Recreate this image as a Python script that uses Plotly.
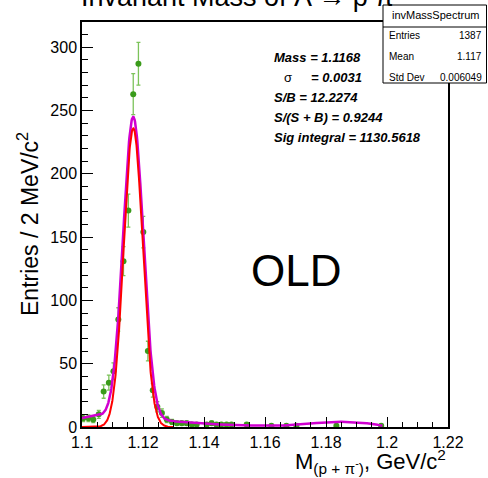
import numpy as np
import plotly.graph_objects as go

# ---------------- data ----------------
mass = [1.1004, 1.1021, 1.1037, 1.1055, 1.1071, 1.1088, 1.1103, 1.1119, 1.1136, 1.1152,
        1.1168, 1.1185, 1.1201, 1.1216, 1.1232, 1.1247, 1.1262, 1.1278, 1.1295, 1.1311,
        1.1327, 1.1343, 1.1360, 1.1376, 1.1409, 1.1425, 1.1441, 1.1457, 1.1474, 1.1490,
        1.1540, 1.1621, 1.1670, 1.1703, 1.1834, 1.1981]
counts = [7, 7, 6, 10, 28, 35, 44, 85, 131, 171,
          263, 287, 154, 60, 29, 16, 11, 6, 4, 3,
          3, 3, 2, 2, 2, 3, 2, 2, 2, 2,
          2, 1, 1, 1, 1, 1]

fit_mass = 1.1168
fit_sigma = 0.0031
sig_amp = 236
tot_amp = 238
tot_sigma = 0.0033
# background part of the magenta (total) fit curve
bg_x = [1.100, 1.104, 1.108, 1.112, 1.1168, 1.121, 1.1256, 1.1278, 1.130, 1.1354, 1.140,
        1.150, 1.160, 1.165, 1.170, 1.175, 1.180, 1.185, 1.190, 1.195, 1.1985]
bg_y = [7, 9, 8, 8, 7, 6, 5, 4.8, 4.5, 3.4, 2.4,
        1.6, 1.0, 1.0, 1.8, 2.8, 3.7, 4.1, 3.8, 2.6, 1.0]

x_ticks = [1.1, 1.12, 1.14, 1.16, 1.18, 1.2, 1.22]
x_tick_text = ["1.1", "1.12", "1.14", "1.16", "1.18", "1.2", "1.22"]
y_ticks = [0, 50, 100, 150, 200, 250, 300]

stats_title = "invMassSpectrum"
stats_rows = [("Entries", "1387"), ("Mean", "1.117"), ("Std Dev", "0.006049")]
fit_lines = ["Mass = 1.1168", "S/B = 12.2274", "S/(S + B) = 0.9244", "Sig integral = 1130.5618"]
sigma_line = "= 0.0031"

# ---------------- figure ----------------
FONT = "Liberation Sans, Arial, Helvetica, sans-serif"
L, T, W, H = 82, 22, 366, 405  # plot area in page pixels
FIG_W, FIG_H = 488, 478


def px(xp):
    return (xp - L) / W


def py(yp):
    return (T + H - yp) / H


errs = np.sqrt(np.array(counts, dtype=float))

fig = go.Figure()
fig.add_trace(go.Scatter(
    x=mass, y=counts, mode="markers",
    marker=dict(color="#3a9b1a", size=6),
    error_y=dict(type="data", array=errs, color="#7cc35a", thickness=1.3, width=2),
    showlegend=False, hoverinfo="skip"))

xs_tot = np.linspace(1.1, 1.1985, 800)
tot = tot_amp * np.exp(-0.5 * ((xs_tot - fit_mass) / tot_sigma) ** 2) + np.interp(xs_tot, bg_x, bg_y)
fig.add_trace(go.Scatter(x=xs_tot, y=tot, mode="lines",
                         line=dict(color="#d000d0", width=2.5),
                         showlegend=False, hoverinfo="skip"))

xs_sig = np.linspace(1.1, 1.13, 500)
sig = sig_amp * np.exp(-0.5 * ((xs_sig - fit_mass) / fit_sigma) ** 2)
fig.add_trace(go.Scatter(x=xs_sig, y=sig, mode="lines",
                         line=dict(color="#ff0000", width=2),
                         showlegend=False, hoverinfo="skip"))

axis_common = dict(showgrid=False, zeroline=False, showline=True, linecolor="black",
                   linewidth=1.5, mirror=True, ticks="inside", tickcolor="black",
                   tickwidth=1, tickfont=dict(family=FONT, size=16, color="black"))

fig.update_xaxes(range=[1.1, 1.22], tickvals=x_ticks, ticktext=x_tick_text, ticklen=10,
                 minor=dict(ticks="inside", ticklen=5, dtick=0.005, tick0=1.1,
                            tickcolor="black", showgrid=False),
                 **axis_common)
fig.update_yaxes(range=[0, 320], tickvals=y_ticks, ticklen=11,
                 minor=dict(ticks="inside", ticklen=6, dtick=10, tick0=0,
                            tickcolor="black", showgrid=False),
                 **axis_common)

shapes = [
    dict(type="rect", xref="paper", yref="paper", x0=px(383), x1=px(486.5), y0=py(83), y1=py(5),
         fillcolor="white", line=dict(color="black", width=1), layer="above"),
    dict(type="line", xref="paper", yref="paper", x0=px(383), x1=px(486.5), y0=py(27), y1=py(27),
         line=dict(color="black", width=1), layer="above"),
]

ann = []
# title (mostly cut off at the top)
ann.append(dict(text="Invariant Mass of Λ → p π<sup>-</sup>", xref="paper", yref="paper",
                x=px(240), y=1, xanchor="center", yanchor="bottom", yshift=8,
                showarrow=False, font=dict(family=FONT, size=27, color="black")))
# stats box
ann.append(dict(text=stats_title, xref="paper", yref="paper", x=px(435), y=py(15),
                xanchor="center", yanchor="middle", showarrow=False,
                font=dict(family=FONT, size=11, color="black")))
for i, (k, v) in enumerate(stats_rows):
    yy = py(36 + i * 20.5)
    ann.append(dict(text=k, xref="paper", yref="paper", x=px(387), y=yy, xanchor="left",
                    yanchor="middle", showarrow=False, font=dict(family=FONT, size=10, color="black")))
    ann.append(dict(text=v, xref="paper", yref="paper", x=px(484), y=yy, xanchor="right",
                    yanchor="middle", showarrow=False, font=dict(family=FONT, size=10, color="black")))
# fit info
fit_y = [57, 97, 117, 137]
for t, yv in zip(fit_lines, fit_y):
    ann.append(dict(text="<b><i>" + t + "</i></b>", xref="paper", yref="paper", x=px(272), y=py(yv),
                    xanchor="left", yanchor="middle", showarrow=False,
                    font=dict(family=FONT, size=13, color="black")))
ann.append(dict(text="σ", xref="paper", yref="paper", x=px(282), y=py(77),
                xanchor="left", yanchor="middle", showarrow=False,
                font=dict(family=FONT, size=13, color="black")))
ann.append(dict(text="<b><i>" + sigma_line + "</i></b>", xref="paper", yref="paper", x=px(309), y=py(77),
                xanchor="left", yanchor="middle", showarrow=False,
                font=dict(family=FONT, size=13, color="black")))
# OLD label
ann.append(dict(text="OLD", xref="paper", yref="paper", x=px(296), y=py(270),
                xanchor="center", yanchor="middle", showarrow=False,
                font=dict(family=FONT, size=44, color="black")))
# axis titles
ann.append(dict(text="M<sub>(p + π<sup>-</sup>)</sub>, GeV/c<sup>2</sup>", xref="paper", yref="paper",
                x=px(448), y=py(461), xanchor="right", yanchor="middle", showarrow=False,
                font=dict(family=FONT, size=22, color="black")))
ann.append(dict(text="Entries / 2 MeV/c<sup>2</sup>", xref="paper", yref="paper",
                x=px(28), y=py(224), xanchor="center", yanchor="middle", textangle=-90,
                showarrow=False, font=dict(family=FONT, size=23, color="black")))

fig.update_layout(width=FIG_W, height=FIG_H,
                  margin=dict(l=L, r=FIG_W - L - W, t=T, b=FIG_H - T - H),
                  plot_bgcolor="white", paper_bgcolor="white", shapes=shapes, annotations=ann,
                  showlegend=False)

fig.write_html("out.html", config={"displayModeBar": False},
               post_script="document.body.style.margin='0';document.body.style.overflow='hidden';")
